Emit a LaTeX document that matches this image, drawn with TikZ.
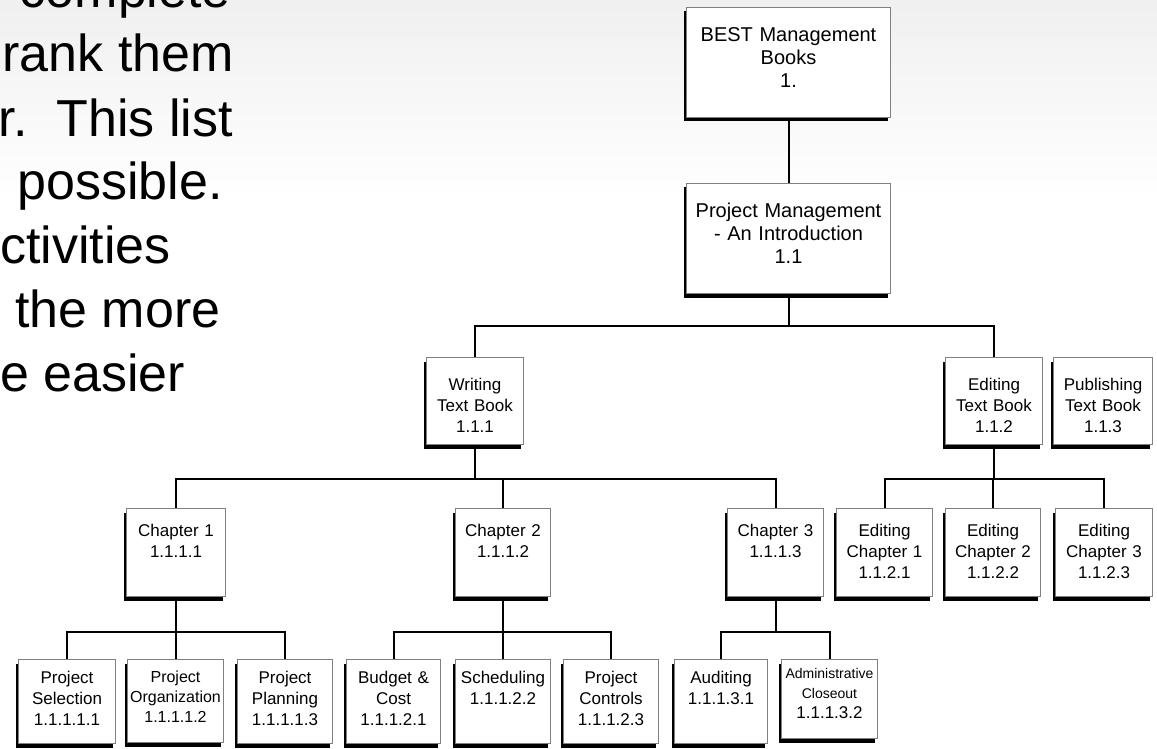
\documentclass[tikz,border=0pt]{standalone}
\usepackage{fontspec}
\setmainfont{Liberation Sans}
\usetikzlibrary{shadows}

\begin{document}
\begin{tikzpicture}[x=1pt, y=-1pt,
box/.style={draw=black!50, line width=1pt, fill=white, inner sep=0pt, align=center, anchor=north west,
  drop shadow={shadow xshift=-3pt, shadow yshift=-4pt, fill=black, opacity=1}},
lvlone/.style={box, text width=204pt, text height=34pt, text depth=76pt, font=\fontsize{20}{23}\selectfont},
lvltwo/.style={box, text width=97pt, text height=33pt, text depth=54pt, font=\fontsize{17}{21}\selectfont},
lvlthree/.style={box, text height=28pt, text depth=60pt, font=\fontsize{17}{21}\selectfont},
lvlfour/.style={box, text height=24pt, text depth=60pt, font=\fontsize{17}{21}\selectfont},
link/.style={line width=2pt},
slide/.style={inner sep=0pt, font=\fontsize{52}{64}\selectfont}
]
\useasboundingbox (0,0) rectangle (1157,749);
\clip (0,0) rectangle (1157,749);
\shade[top color=black!6, bottom color=white] (0,0) rectangle (1157,200);

% slide text, cut at the left
\node[slide, anchor=base east] (l1) at (231,8) {complete};
\node[slide, anchor=base east] (l2) at (234,72) {rank them};
\node[slide, anchor=base east] (l3) at (233,137) {r.\ \ This list};
\node[slide, anchor=base east] (l4) at (223,200) {possible.};
\node[slide, anchor=base west] (l5) at (0,263) {ctivities};
\node[slide, anchor=base west] (l6) at (15,327) {the more};
\node[slide, anchor=base west] (l7) at (0,391) {e easier};

% top levels
\node[lvlone] (best) at (686,7) {BEST Management\\Books\\1.};
\node[lvlone] (pm) at (686,183) {Project Management\\- An Introduction\\1.1};

\node[lvltwo] (wtb) at (426,357) {Writing\\Text Book\\1.1.1};
\node[lvltwo] (etb) at (945,357) {Editing\\Text Book\\1.1.2};
\node[lvltwo, text width=99pt] (ptb) at (1053,357) {Publishing\\Text Book\\1.1.3};

% chapters
\node[lvlthree, text width=99pt] (ch1) at (126,508) {Chapter 1\\1.1.1.1};
\node[lvlthree, text width=95pt] (ch2) at (455,508) {Chapter 2\\1.1.1.2};
\node[lvlthree, text width=96pt] (ch3) at (727,508) {Chapter 3\\1.1.1.3};
\node[lvlthree, text width=96pt] (ec1) at (836,508) {Editing\\Chapter 1\\1.1.2.1};
\node[lvlthree, text width=95pt] (ec2) at (945,508) {Editing\\Chapter 2\\1.1.2.2};
\node[lvlthree, text width=97pt] (ec3) at (1055,508) {Editing\\Chapter 3\\1.1.2.3};

% work packages
\node[lvlfour, text width=97pt] (ps) at (18,659) {Project\\Selection\\1.1.1.1.1};
\node[lvlfour, text width=96pt, text height=23pt, font=\fontsize{16}{20}\selectfont] (po) at (127,659) {Project\\Organization\\1.1.1.1.2};
\node[lvlfour, text width=95pt] (pp) at (237,659) {Project\\Planning\\1.1.1.1.3};
\node[lvlfour, text width=94pt] (bc) at (346,659) {Budget \&\\Cost\\1.1.1.2.1};
\node[lvlfour, text width=95pt] (sc) at (455,659) {Scheduling\\1.1.1.2.2};
\node[lvlfour, text width=95pt] (pc) at (563,659) {Project\\Controls\\1.1.1.2.3};
\node[lvlfour, text width=93pt] (au) at (674,659) {Auditing\\1.1.1.3.1};
\node[lvlfour, text width=96pt, text height=19pt, font=\fontsize{14}{20}\selectfont] (ac) at (781,659) {Administrative\\Closeout\\{\fontsize{17}{22}\selectfont 1.1.1.3.2}};

\draw[link] (best) -- (pm);
\foreach \c in {wtb,etb}
  \draw[link] (pm.south) -- ++(0,32) -| (\c.north);
\foreach \c in {ch1,ch2,ch3}
  \draw[link] (wtb.south) -- ++(0,34) -| (\c.north);
\foreach \c in {ec1,ec2,ec3}
  \draw[link] (etb.south) -- ++(0,34) -| (\c.north);
\foreach \c in {ps,po,pp}
  \draw[link] (ch1.south) -- ++(0,35) -| (\c.north);
\foreach \c in {bc,sc,pc}
  \draw[link] (ch2.south) -- ++(0,35) -| (\c.north);
\foreach \c in {au,ac}
  \draw[link] (ch3.south) -- ++(0,35) -| (\c.north);
\end{tikzpicture}
\end{document}
